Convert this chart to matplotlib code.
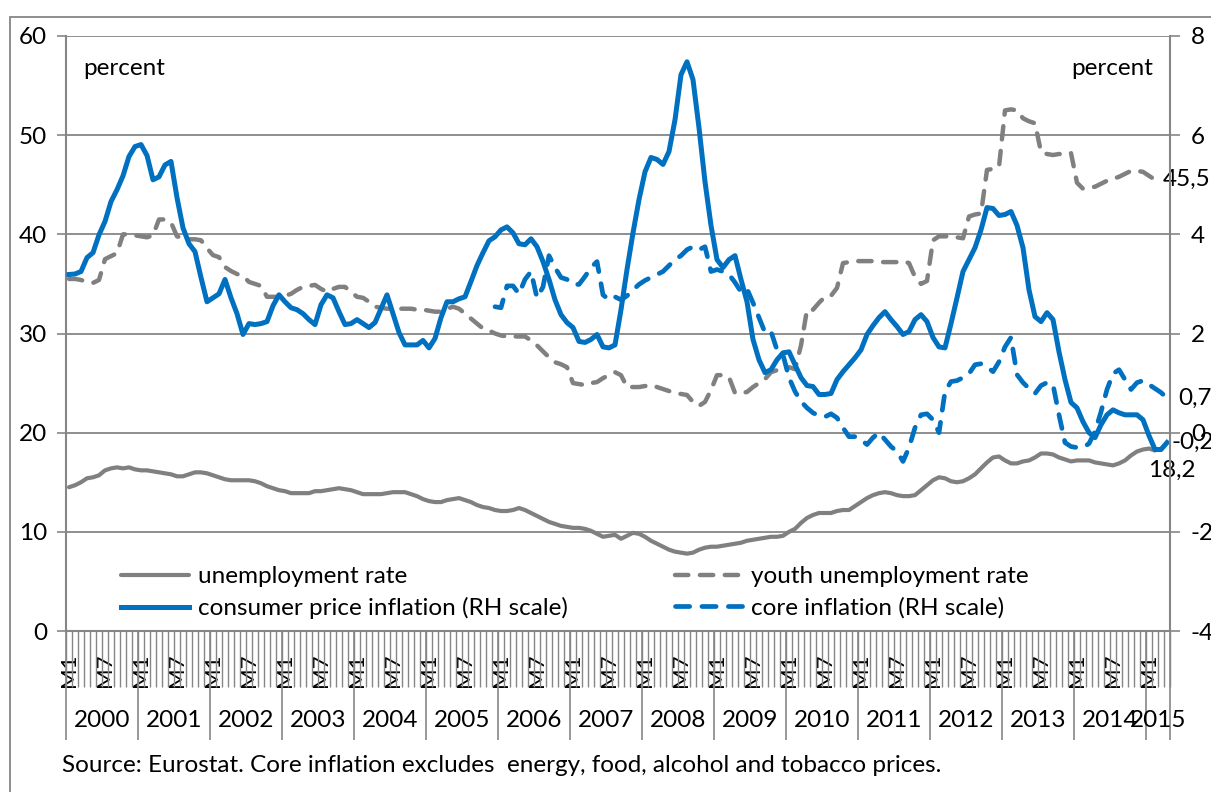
import numpy as np
import matplotlib
matplotlib.use("Agg")
import matplotlib.pyplot as plt
from matplotlib.patches import Rectangle

plt.rcParams['font.family'] = ['Lato', 'DejaVu Sans']
plt.rcParams['axes.unicode_minus'] = False

##############################################################################################################
# Data (monthly, 2000 M1 .. 2015 M4)
years = list(range(2000, 2016))
month_labels = [f"M{m}" for y in years for m in range(1, 13)][:184]

# unemployment rate, left scale (2000 M1 .. 2015 M2)
unemp = [14.5, 14.7, 15.0, 15.4, 15.5, 15.7, 16.2, 16.4, 16.5, 16.4, 16.5, 16.3,
         16.2, 16.2, 16.1, 16.0, 15.9, 15.8, 15.6, 15.6, 15.8, 16.0, 16.0, 15.9,
         15.7, 15.5, 15.3, 15.2, 15.2, 15.2, 15.2, 15.1, 14.9, 14.6, 14.4, 14.2,
         14.1, 13.9, 13.9, 13.9, 13.9, 14.1, 14.1, 14.2, 14.3, 14.4, 14.3, 14.2,
         14.0, 13.8, 13.8, 13.8, 13.8, 13.9, 14.0, 14.0, 14.0, 13.8, 13.6, 13.3,
         13.1, 13.0, 13.0, 13.2, 13.3, 13.4, 13.2, 13.0, 12.7, 12.5, 12.4, 12.2,
         12.1, 12.1, 12.2, 12.4, 12.2, 11.9, 11.6, 11.3, 11.0, 10.8, 10.6, 10.5,
         10.4, 10.4, 10.3, 10.1, 9.8, 9.5, 9.6, 9.7, 9.3, 9.6, 9.9, 9.8,
         9.5, 9.1, 8.8, 8.5, 8.2, 8.0, 7.9, 7.8, 7.9, 8.2, 8.4, 8.5,
         8.5, 8.6, 8.7, 8.8, 8.9, 9.1, 9.2, 9.3, 9.4, 9.5, 9.5, 9.6,
         10.0, 10.3, 10.9, 11.4, 11.7, 11.9, 11.9, 11.9, 12.1, 12.2, 12.2, 12.6,
         13.0, 13.4, 13.7, 13.9, 14.0, 13.9, 13.7, 13.6, 13.6, 13.7, 14.2, 14.7,
         15.2, 15.5, 15.4, 15.1, 15.0, 15.1, 15.4, 15.8, 16.4, 17.0, 17.5, 17.6,
         17.2, 16.9, 16.9, 17.1, 17.2, 17.5, 17.9, 17.9, 17.8, 17.5, 17.3, 17.1,
         17.2, 17.2, 17.2, 17.0, 16.9, 16.8, 16.7, 16.9, 17.2, 17.7, 18.1, 18.3,
         18.4, 18.2]

# youth unemployment rate, left scale (2000 M1 .. 2015 M3)
youth = [35.5, 35.5, 35.4, 35.2, 35.1, 35.4, 37.5, 37.8, 38.1, 40.0, 40.0, 39.9,
         39.8, 39.7, 39.9, 41.5, 41.5, 41.2, 39.8, 39.6, 39.5, 39.5, 39.4, 38.6,
         37.9, 37.7, 36.7, 36.3, 36.0, 35.8, 35.2, 35.0, 34.8, 33.7, 33.7, 33.7,
         33.8, 34.0, 34.4, 34.7, 34.8, 34.9, 34.5, 34.2, 34.5, 34.7, 34.7, 34.2,
         33.7, 33.6, 33.2, 32.7, 32.6, 32.5, 32.5, 32.5, 32.5, 32.5, 32.4, 32.4,
         32.3, 32.2, 32.2, 32.5, 32.7, 32.5, 32.0, 31.5, 31.0, 30.5, 30.3, 30.0,
         29.8, 29.7, 29.7, 29.7, 29.7, 29.3, 28.8, 28.2, 27.6, 27.1, 26.9, 26.6,
         25.0, 24.9, 24.8, 25.0, 25.1, 25.5, 25.8, 26.1, 25.8, 24.6, 24.6, 24.6,
         24.7, 24.8, 24.6, 24.4, 24.2, 24.0, 23.9, 23.8, 23.1, 22.7, 23.1, 24.3,
         25.8, 25.8, 25.6, 24.0, 24.0, 24.1, 24.6, 25.0, 25.4, 26.1, 26.3, 26.4,
         26.6, 26.4, 28.8, 32.4, 32.4, 33.1, 33.7, 33.8, 34.6, 37.1, 37.2, 37.3,
         37.3, 37.3, 37.3, 37.2, 37.2, 37.2, 37.2, 37.3, 37.1, 35.7, 35.0, 35.3,
         39.4, 39.8, 39.8, 39.8, 39.7, 39.6, 41.8, 42.0, 42.1, 46.5, 46.6, 46.8,
         52.5, 52.6, 52.5, 51.7, 51.4, 51.2, 48.3, 48.1, 48.0, 48.1, 48.1, 48.2,
         45.2, 44.6, 44.7, 44.8, 45.1, 45.4, 45.6, 45.8, 46.1, 46.4, 46.4, 46.3,
         45.9, 45.5, 45.5]

# consumer price inflation, right scale (2000 M1 .. 2015 M4)
cpi = [3.19, 3.20, 3.25, 3.53, 3.63, 3.99, 4.26, 4.66, 4.90, 5.18, 5.57, 5.77,
       5.81, 5.59, 5.10, 5.16, 5.40, 5.47, 4.74, 4.13, 3.81, 3.65, 3.13, 2.64,
       2.72, 2.80, 3.09, 2.72, 2.40, 1.98, 2.20, 2.18, 2.20, 2.24, 2.56, 2.78,
       2.64, 2.52, 2.48, 2.40, 2.28, 2.18, 2.58, 2.78, 2.72, 2.44, 2.18, 2.20,
       2.28, 2.20, 2.12, 2.22, 2.50, 2.78, 2.40, 2.02, 1.77, 1.77, 1.77, 1.86,
       1.71, 1.90, 2.32, 2.64, 2.64, 2.70, 2.74, 3.05, 3.37, 3.63, 3.87, 3.95,
       4.09, 4.15, 4.03, 3.81, 3.79, 3.91, 3.75, 3.45, 3.09, 2.68, 2.38, 2.22,
       2.12, 1.84, 1.82, 1.88, 1.98, 1.73, 1.71, 1.77, 2.48, 3.29, 4.03, 4.70,
       5.26, 5.55, 5.51, 5.41, 5.67, 6.31, 7.22, 7.48, 7.12, 6.15, 5.06, 4.18,
       3.49, 3.33, 3.49, 3.57, 3.09, 2.64, 1.88, 1.47, 1.21, 1.27, 1.47, 1.61,
       1.63, 1.37, 1.11, 0.95, 0.93, 0.77, 0.77, 0.79, 1.07, 1.23, 1.37, 1.51,
       1.67, 1.98, 2.16, 2.32, 2.44, 2.28, 2.14, 1.98, 2.04, 2.28, 2.38, 2.24,
       1.92, 1.73, 1.71, 2.20, 2.72, 3.25, 3.49, 3.73, 4.09, 4.54, 4.52, 4.38,
       4.40, 4.46, 4.18, 3.73, 2.88, 2.34, 2.24, 2.42, 2.28, 1.63, 1.07, 0.61,
       0.50, 0.22, 0.00, -0.10, 0.16, 0.36, 0.46, 0.40, 0.36, 0.36, 0.36, 0.26,
       -0.06, -0.34, -0.34, -0.2]

# core inflation, right scale (2005 M12 .. 2015 M4)
core_start = 71
core = [2.54,
        2.52, 2.96, 2.96, 2.80, 3.09, 3.25, 2.72, 2.94, 3.57, 3.33, 3.13, 3.09,
        2.99, 2.99, 3.15, 3.33, 3.45, 2.78, 2.68, 2.74, 2.68, 2.76, 2.88, 2.99,
        3.07, 3.13, 3.19, 3.25, 3.37, 3.49, 3.57, 3.69, 3.75, 3.69, 3.75, 3.25,
        3.29, 3.25, 3.19, 3.03, 2.84, 2.90, 2.62, 2.32, 2.02, 2.04, 1.67, 1.57,
        1.11, 0.83, 0.63, 0.50, 0.40, 0.34, 0.32, 0.38, 0.30, 0.10, -0.08, -0.08,
        -0.14, -0.24, -0.10, 0.00, -0.14, -0.28, -0.38, -0.58, -0.30, 0.10, 0.36, 0.38,
        0.26, 0.00, 0.83, 1.03, 1.05, 1.11, 1.19, 1.37, 1.39, 1.33, 1.23, 1.43,
        1.73, 1.92, 1.17, 1.01, 0.89, 0.79, 0.95, 1.01, 0.97, 0.36, -0.20, -0.28,
        -0.30, -0.30, -0.22, 0.02, 0.42, 0.87, 1.19, 1.27, 1.07, 0.87, 1.01, 1.05,
        0.97, 0.89, 0.81, 0.70]

BLUE = '#0070C0'
GRAY = '#808080'
AXC = '#868686'
FS = 17.5
DASH = (0, (3.0, 2.6))

##############################################################################################################
# Figure and axes
fig = plt.figure(figsize=(12.11, 7.92), dpi=100)
ax = fig.add_axes([66 / 1211, 161 / 792, 1104 / 1211, 595 / 792])
ax2 = ax.twinx()

l_un, = ax.plot(np.arange(len(unemp)), unemp, color=GRAY, lw=3.0,
                solid_capstyle='round', label='unemployment rate')
l_yo, = ax.plot(np.arange(len(youth)), youth, color=GRAY, lw=3.2,
                ls=DASH, dash_capstyle='round', label='youth unemployment rate')
l_cpi, = ax2.plot(np.arange(len(cpi)), cpi, color=BLUE, lw=3.6,
                  solid_joinstyle='round', label='consumer price inflation (RH scale)')
l_core, = ax2.plot(np.arange(core_start, core_start + len(core)), core, color=BLUE, lw=3.4,
                   ls=DASH, dash_capstyle='round', label='core inflation (RH scale)')

# left axis
ax.set_xlim(-0.5, len(month_labels) - 0.5)
ax.set_ylim(0, 60)
ax.set_yticks(range(0, 61, 10))
ax.grid(axis='y', color=AXC, lw=1.3)
ax.set_axisbelow(True)
ax.tick_params(axis='y', length=6.5, width=1.2, color=AXC, pad=7, labelsize=FS)
for s in ['top', 'right']:
    ax.spines[s].set_visible(False)
for s in ['left', 'bottom']:
    ax.spines[s].set_color(AXC)
    ax.spines[s].set_linewidth(1.5)

# right axis
ax2.set_ylim(-4, 8)
ax2.set_yticks(range(-4, 9, 2))
ax2.tick_params(axis='y', length=7, width=1.2, color=AXC, pad=8, labelsize=FS)
for s in ['top', 'left', 'bottom']:
    ax2.spines[s].set_visible(False)
ax2.spines['right'].set_color(AXC)
ax2.spines['right'].set_linewidth(1.5)

# x axis: month ticks, M1/M7 labels, year separators
ax.set_xticks(np.arange(-0.5, len(month_labels), 1), minor=True)
ax.tick_params(axis='x', which='minor', length=40, width=1.0, color=AXC)
pos = [i for i, m in enumerate(month_labels) if m in ('M1', 'M7')]
ax.set_xticks(pos)
ax.set_xticklabels([month_labels[i] for i in pos], rotation=90, fontsize=16)
ax.tick_params(axis='x', which='major', length=0, pad=16)

bounds = list(np.arange(-0.5, len(month_labels), 12)) + [len(month_labels) - 0.5]
ax.vlines(bounds, -0.183, 0, transform=ax.get_xaxis_transform(), clip_on=False,
          color=AXC, lw=1.2)
for k, yr in enumerate(years):
    lo = 12 * k
    hi = min(12 * k + 11, len(month_labels) - 1)
    ax.text((lo + hi) / 2, -0.15, str(yr), transform=ax.get_xaxis_transform(),
            ha='center', va='center', fontsize=FS)

# texts
ax.text(0.0154, 0.946, 'percent', transform=ax.transAxes, fontsize=FS, va='center')
ax.text(0.9846, 0.946, 'percent', transform=ax.transAxes, fontsize=FS, va='center', ha='right')

# data labels
ax.annotate('45,5', (len(youth) - 1, youth[-1]), xytext=(1, 0), textcoords='offset points',
            va='center', ha='left', fontsize=FS, annotation_clip=False)
ax.annotate('18,2', (len(unemp) - 1, unemp[-1]), xytext=(12, -14), textcoords='offset points',
            va='center', ha='center', fontsize=FS, annotation_clip=False)
ax2.annotate('0,7', (core_start + len(core) - 1, core[-1]), xytext=(8, 0), textcoords='offset points',
             va='center', ha='left', fontsize=FS, annotation_clip=False)
ax2.annotate('-0,2', (len(cpi) - 1, cpi[-1]), xytext=(3, 0), textcoords='offset points',
             va='center', ha='left', fontsize=FS, annotation_clip=False)

# legend
ax2.legend([l_un, l_cpi, l_yo, l_core],
           [l_un.get_label(), l_cpi.get_label(), l_yo.get_label(), l_core.get_label()],
           ncol=2, loc='lower left', bbox_to_anchor=(0.05, 0.02), frameon=False,
           fontsize=FS, handlelength=2.8, handletextpad=0.35, columnspacing=4.4,
           labelspacing=0.4, borderpad=0, borderaxespad=0)

fig.text(62 / 1211, (792 - 766) / 792,
         'Source: Eurostat. Core inflation excludes  energy, food, alcohol and tobacco prices.',
         fontsize=FS, va='center')

# outer chart border
fig.add_artist(Rectangle((10 / 1211, -0.5), 2, 0.5 + (792 - 17) / 792, transform=fig.transFigure,
                         fill=False, edgecolor=AXC, lw=1.3))

fig.savefig('out.png', dpi=100)
